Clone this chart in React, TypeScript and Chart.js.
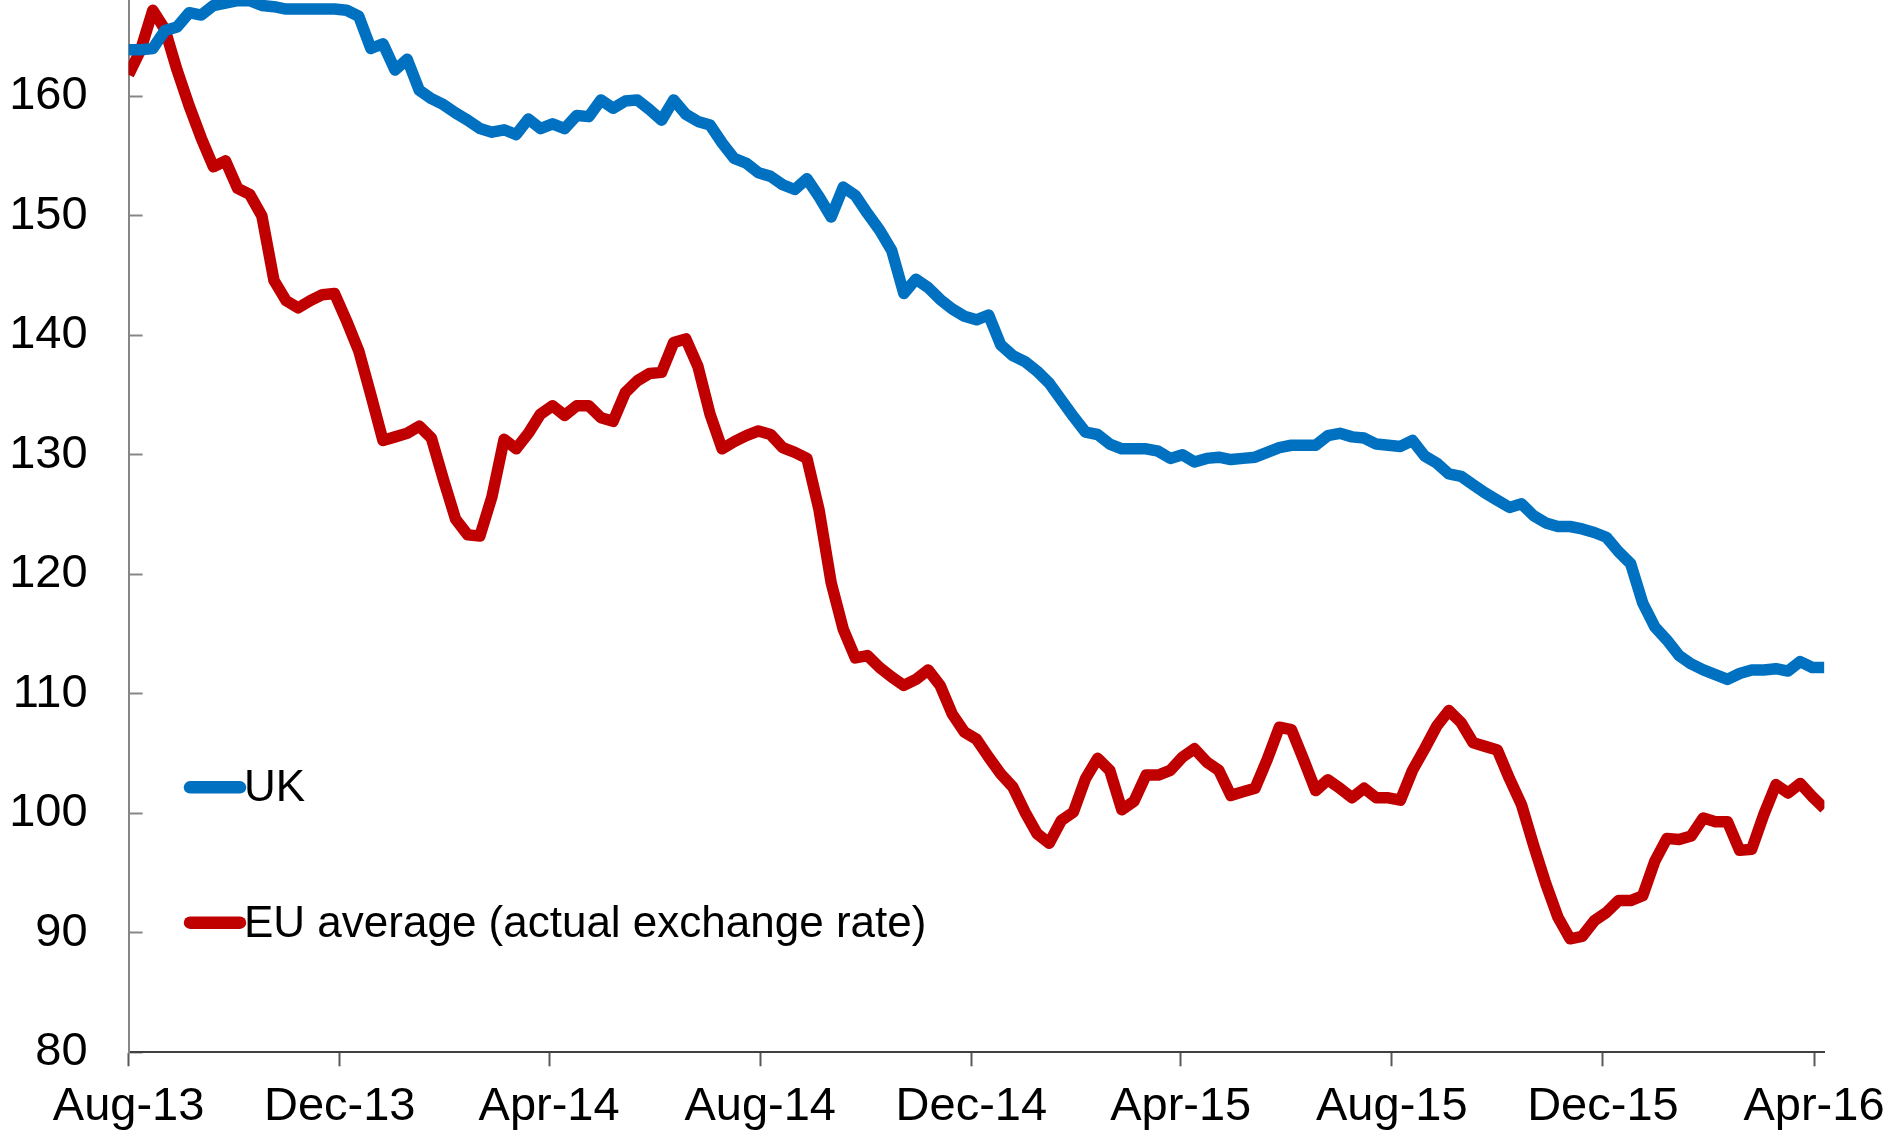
import React, { useEffect, useRef } from 'react';
import { Chart, registerables } from 'chart.js';

Chart.register(...registerables);

// ---- data ----
const startDate = '2013-08-01';
const tickDates = ['2013-08-01', '2013-12-01', '2014-04-01', '2014-08-01', '2014-12-01', '2015-04-01', '2015-08-01', '2015-12-01', '2016-04-01'];
const tickLabels = ['Aug-13', 'Dec-13', 'Apr-14', 'Aug-14', 'Dec-14', 'Apr-15', 'Aug-15', 'Dec-15', 'Apr-16'];
const yTicks = [80, 90, 100, 110, 120, 130, 140, 150, 160];
const seriesLabels = ['UK', 'EU average (actual exchange rate)'];

// weekly observations
const ukValues = [
  163.9, 163.9, 164.0, 165.5, 165.8, 167.0, 166.8, 167.6, 167.8, 168.0,
  168.0, 167.6, 167.5, 167.3, 167.3, 167.3, 167.3, 167.3, 167.2, 166.7,
  164.0, 164.4, 162.2, 163.1, 160.5, 159.8, 159.3, 158.6, 158.0, 157.3,
  157.0, 157.2, 156.8, 158.1, 157.3, 157.7, 157.3, 158.4, 158.3, 159.7,
  159.0, 159.6, 159.7, 158.9, 158.0, 159.7, 158.5, 157.9, 157.6, 156.1,
  154.8, 154.4, 153.6, 153.3, 152.6, 152.2, 153.1, 151.6, 149.9, 152.4,
  151.7, 150.2, 148.8, 147.1, 143.5, 144.7, 144.0, 143.0, 142.2, 141.6,
  141.3, 141.7, 139.2, 138.3, 137.8, 137.0, 136.0, 134.6, 133.2, 131.9,
  131.7, 130.9, 130.5, 130.5, 130.5, 130.3, 129.7, 130.0, 129.4, 129.7,
  129.8, 129.6, 129.7, 129.8, 130.2, 130.6, 130.8, 130.8, 130.8, 131.6,
  131.8, 131.5, 131.4, 130.9, 130.8, 130.7, 131.2, 129.9, 129.3, 128.4,
  128.2, 127.5, 126.8, 126.2, 125.6, 125.9, 124.9, 124.3, 124.0, 124.0,
  123.8, 123.5, 123.1, 121.9, 120.9, 117.6, 115.6, 114.5, 113.2, 112.5,
  112.0, 111.6, 111.2, 111.7, 112.0, 112.0, 112.1, 111.9, 112.7, 112.2,
  112.2,
];

const euValues = [
  161.8, 163.9, 167.2, 165.6, 162.2, 159.2, 156.5, 154.1, 154.6, 152.3,
  151.8, 150.0, 144.6, 142.9, 142.3, 142.9, 143.4, 143.5, 141.2, 138.7,
  135.0, 131.2, 131.5, 131.8, 132.4, 131.4, 127.9, 124.6, 123.3, 123.2,
  126.5, 131.3, 130.5, 131.8, 133.4, 134.1, 133.3, 134.1, 134.1, 133.1,
  132.8, 135.2, 136.2, 136.8, 136.9, 139.4, 139.7, 137.4, 133.4, 130.5,
  131.1, 131.6, 132.0, 131.7, 130.6, 130.2, 129.7, 125.4, 119.3, 115.4,
  113.0, 113.2, 112.2, 111.4, 110.7, 111.2, 112.0, 110.7, 108.3, 106.8,
  106.2, 104.7, 103.3, 102.2, 100.1, 98.3, 97.5, 99.4, 100.1, 102.9,
  104.6, 103.6, 100.3, 101.0, 103.2, 103.2, 103.6, 104.7, 105.4, 104.3,
  103.6, 101.5, 101.8, 102.1, 104.5, 107.2, 107.0, 104.5, 101.9, 102.8,
  102.1, 101.3, 102.1, 101.3, 101.3, 101.1, 103.6, 105.4, 107.3, 108.6,
  107.6, 105.9, 105.6, 105.3, 102.9, 100.7, 97.3, 94.1, 91.3, 89.5,
  89.7, 91.0, 91.7, 92.7, 92.7, 93.1, 96.0, 97.9, 97.8, 98.1,
  99.6, 99.3, 99.3, 96.9, 97.0, 99.9, 102.4, 101.7, 102.5, 101.4,
  100.4,
];

// ---- helpers ----
const DAY_MS = 86400000;
const dayOffset = (d: string) => (Date.parse(d + 'T00:00:00Z') - Date.parse(startDate + 'T00:00:00Z')) / DAY_MS;
const weekDays = ukValues.map((_, i) => i * 7); // one observation per week
const tickDays = tickDates.map(dayOffset);
const labelByDay: Record<number, string> = {};
tickDays.forEach((d, i) => { labelByDay[d] = tickLabels[i]; });

const FONT = "'Liberation Sans', Arial, Helvetica, sans-serif";
const COLORS = ['#0070C0', '#C00000'];

const legendPlugin = {
  id: 'insideLegend',
  afterDatasetsDraw(chart: any) {
    const ctx = chart.ctx as CanvasRenderingContext2D;
    const rows = [787.3, 922.7];
    ctx.save();
    chart.data.datasets.forEach((ds: any, i: number) => {
      const y = rows[i];
      ctx.strokeStyle = ds.borderColor;
      ctx.lineWidth = 12.5;
      ctx.lineCap = 'round';
      ctx.beginPath();
      ctx.moveTo(190, y);
      ctx.lineTo(240, y);
      ctx.stroke();
      ctx.fillStyle = '#000';
      ctx.font = `44px ${FONT}`;
      ctx.textAlign = 'left';
      ctx.textBaseline = 'alphabetic';
      ctx.fillText(ds.label, 244, y + 14);
    });
    ctx.restore();
  },
};

export default function App() {
  const ref = useRef<HTMLCanvasElement | null>(null);

  useEffect(() => {
    if (!ref.current) return;
    const chart = new Chart(ref.current, {
      type: 'line',
      data: {
        datasets: [
          {
            label: seriesLabels[0],
            data: weekDays.map((x, i) => ({ x, y: ukValues[i] })),
            borderColor: COLORS[0],
            backgroundColor: COLORS[0],
            borderWidth: 11.5,
            pointRadius: 0,
            tension: 0,
            fill: false,
            borderJoinStyle: 'round',
            borderCapStyle: 'butt',
          },
          {
            label: seriesLabels[1],
            data: weekDays.map((x, i) => ({ x, y: euValues[i] })),
            borderColor: COLORS[1],
            backgroundColor: COLORS[1],
            borderWidth: 11.5,
            pointRadius: 0,
            tension: 0,
            fill: false,
            borderJoinStyle: 'round',
            borderCapStyle: 'butt',
          },
        ],
      },
      options: {
        responsive: false,
        animation: false,
        devicePixelRatio: 1,
        layout: { padding: { left: 0, top: 0, right: 76.6, bottom: 0 } },
        plugins: {
          legend: { display: false },
          tooltip: { enabled: false },
        },
        scales: {
          x: {
            type: 'linear',
            position: 'bottom',
            min: 0,
            max: weekDays[weekDays.length - 1],
            afterBuildTicks: (s: any) => { s.ticks = tickDays.map((v) => ({ value: v })); },
            afterFit: (s: any) => { s.height = 86.7; s.paddingLeft = 0; s.paddingRight = 0; },
            ticks: {
              autoSkip: false,
              maxRotation: 0,
              minRotation: 0,
              padding: 13,
              color: '#000',
              font: { family: FONT, size: 47 },
              callback: (v: any) => labelByDay[v as number] ?? '',
            },
            grid: { drawOnChartArea: false, drawTicks: true, tickLength: 14, tickColor: '#595959', tickWidth: 2 },
            border: { display: true, color: '#404040', width: 2 },
          },
          y: {
            type: 'linear',
            position: 'left',
            min: 80,
            max: 168.06,
            afterBuildTicks: (s: any) => { s.ticks = yTicks.map((v) => ({ value: v })); },
            afterFit: (s: any) => { s.width = 128.6; s.paddingTop = 0; s.paddingBottom = 0; },
            ticks: {
              padding: 55,
              color: '#000',
              font: { family: FONT, size: 47 },
              callback: (v: any) => String(v),
            },
            grid: { drawOnChartArea: false, drawTicks: true, tickLength: -14, tickColor: '#868686', tickWidth: 2 },
            border: { display: true, color: '#868686', width: 2 },
          },
        },
      } as any,
      plugins: [legendPlugin],
    });
    return () => chart.destroy();
  }, []);

  return (
    <div style={{ position: 'fixed', left: 0, top: 0, width: 1901, height: 1139, background: '#fff' }}>
      <canvas ref={ref} width={1901} height={1139} style={{ display: 'block', width: 1901, height: 1139 }} />
    </div>
  );
}
